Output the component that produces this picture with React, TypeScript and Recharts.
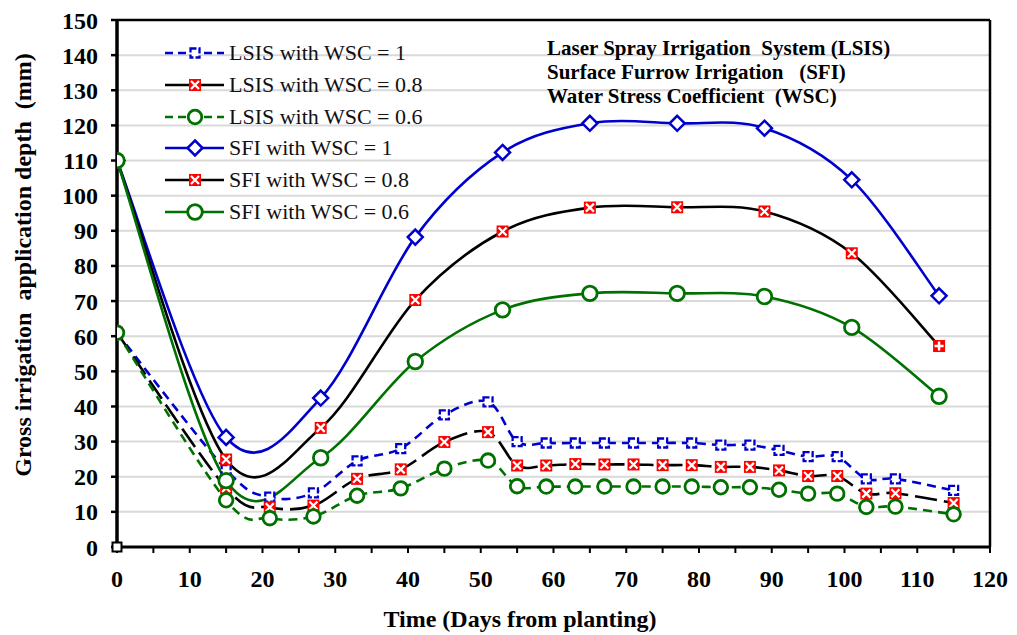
import React from 'react';
import { ComposedChart, Line, XAxis, YAxis, CartesianGrid, ReferenceLine, ReferenceDot, Legend } from 'recharts';

// ---------- data ----------
const lsisDays = [0, 15, 21, 27, 33, 39, 45, 51, 55, 59, 63, 67, 71, 75, 79, 83, 87, 91, 95, 99, 103, 107, 115];
const lsisWsc1 = [61, 22, 14.2, 15.4, 24.5, 28, 37.6, 41.3, 30, 29.6, 29.6, 29.6, 29.6, 29.6, 29.6, 29, 29, 27.5, 25.7, 25.7, 19.4, 19.4, 16.1];
const lsisWsc08 = [61, 16.8, 11.3, 11.8, 19.4, 22.1, 29.9, 32.7, 23.2, 23.2, 23.6, 23.5, 23.5, 23.3, 23.3, 22.8, 22.8, 21.8, 20.2, 20.2, 15.2, 15.3, 12.5];
const lsisWsc06 = [61, 13.3, 8.2, 8.7, 14.6, 16.7, 22.3, 24.6, 17.3, 17.2, 17.2, 17.2, 17.2, 17.2, 17.2, 17, 17, 16.3, 15.2, 15.2, 11.4, 11.5, 9.3];

const sfiDays = [0, 15, 28, 41, 53, 65, 77, 89, 101, 113];
const sfiWsc1 = [110, 31.2, 42.4, 88.2, 112.3, 120.6, 120.6, 119.2, 104.5, 71.5];
const sfiWsc08 = [110, 24.9, 33.9, 70.3, 89.8, 96.6, 96.7, 95.5, 83.6, 57.2];
const sfiWsc06 = [110, 18.9, 25.4, 52.8, 67.5, 72.2, 72.2, 71.3, 62.5, 42.9];

const originDay = 0;
const originValue = 0;

const seriesNames = [
  'LSIS with WSC = 1',
  'LSIS with WSC = 0.8',
  'LSIS with WSC = 0.6',
  'SFI with WSC = 1',
  'SFI with WSC = 0.8',
  'SFI with WSC = 0.6',
];

const yTicks = [0, 10, 20, 30, 40, 50, 60, 70, 80, 90, 100, 110, 120, 130, 140, 150];
const xTicks = [0, 5, 10, 15, 20, 25, 30, 35, 40, 45, 50, 55, 60, 65, 70, 75, 80, 85, 90, 95, 100, 105, 110, 115, 120];

const xTitle = 'Time (Days from planting)';
const yTitle = 'Gross irrigation  application depth  (mm)';
const notes = [
  'Laser Spray Irrigation  System (LSIS)',
  'Surface Furrow Irrigation   (SFI)',
  'Water Stress Coefficient  (WSC)',
];

// ---------- styles ----------
const BLUE = '#0000CC';
const GREEN = '#007000';
const RED = '#FF0000';
const FONT = '"Liberation Serif", "Times New Roman", serif';

const toRows = (days: number[], vals: number[]) => days.map((d, i) => ({ day: d, value: vals[i] }));

// Excel-like smoothing (uniform Catmull-Rom as cubic Bezier)
function excelSmooth(context: any) {
  let pts: number[][] = [];
  return {
    areaStart() {},
    areaEnd() {},
    lineStart() {
      pts = [];
    },
    point(x: number, y: number) {
      pts.push([+x, +y]);
    },
    lineEnd() {
      const n = pts.length;
      if (!n) return;
      context.moveTo(pts[0][0], pts[0][1]);
      if (n === 2) {
        context.lineTo(pts[1][0], pts[1][1]);
        return;
      }
      for (let i = 0; i < n - 1; i++) {
        const p0 = pts[Math.max(i - 1, 0)];
        const p1 = pts[i];
        const p2 = pts[i + 1];
        const p3 = pts[Math.min(i + 2, n - 1)];
        const c1x = p1[0] + (p2[0] - p0[0]) / 6;
        const c1y = p1[1] + (p2[1] - p0[1]) / 6;
        const c2x = p2[0] - (p3[0] - p1[0]) / 6;
        const c2y = p2[1] - (p3[1] - p1[1]) / 6;
        context.bezierCurveTo(c1x, c1y, c2x, c2y, p2[0], p2[1]);
      }
    },
  };
}

type MarkerKind = 'lsisSquare' | 'redX' | 'redPlus' | 'circleSmall' | 'circle' | 'diamond' | 'originSquare';

function Marker({ kind, cx, cy }: { kind: MarkerKind; cx: number; cy: number }) {
  if (cx == null || cy == null || isNaN(cx) || isNaN(cy)) return null;
  switch (kind) {
    case 'lsisSquare':
      return (
        <rect x={cx - 4.5} y={cy - 4.5} width={9} height={9} fill="#fff" stroke={BLUE} strokeWidth={2.3} strokeDasharray="6 2" />
      );
    case 'redX':
      return (
        <g>
          <rect x={cx - 6} y={cy - 6} width={12} height={12} fill={RED} />
          <path d={`M${cx - 4},${cy - 4}L${cx + 4},${cy + 4}M${cx + 4},${cy - 4}L${cx - 4},${cy + 4}`} stroke="#fff" strokeWidth={2.2} />
        </g>
      );
    case 'redPlus':
      return (
        <g>
          <rect x={cx - 6} y={cy - 6} width={12} height={12} fill={RED} />
          <path d={`M${cx - 4.5},${cy}H${cx + 4.5}M${cx},${cy - 4.5}V${cy + 4.5}`} stroke="#fff" strokeWidth={2.4} />
        </g>
      );
    case 'circleSmall':
      return <circle cx={cx} cy={cy} r={6.8} fill="#fff" stroke={GREEN} strokeWidth={2.8} />;
    case 'circle':
      return <circle cx={cx} cy={cy} r={7.3} fill="#fff" stroke={GREEN} strokeWidth={2.8} />;
    case 'diamond':
      return (
        <polygon
          points={`${cx},${cy - 7.5} ${cx + 7.5},${cy} ${cx},${cy + 7.5} ${cx - 7.5},${cy}`}
          fill="#fff"
          stroke={BLUE}
          strokeWidth={2.5}
        />
      );
    case 'originSquare':
      return <rect x={cx - 4.5} y={cy - 4.5} width={9} height={9} fill="#fff" stroke="#000" strokeWidth={2} />;
  }
  return null;
}

const seriesStyles = [
  { stroke: BLUE, dash: '9 6', legendDash: '8 5', marker: 'lsisSquare' as MarkerKind },
  { stroke: '#000', dash: '22 7', legendDash: undefined, marker: 'redX' as MarkerKind },
  { stroke: GREEN, dash: '9 6', legendDash: '8 5', marker: 'circleSmall' as MarkerKind },
  { stroke: BLUE, dash: undefined, legendDash: undefined, marker: 'diamond' as MarkerKind },
  { stroke: '#000', dash: undefined, legendDash: undefined, marker: 'redX' as MarkerKind },
  { stroke: GREEN, dash: undefined, legendDash: undefined, marker: 'circle' as MarkerKind },
];

const seriesData = [
  toRows(lsisDays, lsisWsc1),
  toRows(lsisDays, lsisWsc08),
  toRows(lsisDays, lsisWsc06),
  toRows(sfiDays, sfiWsc1),
  toRows(sfiDays, sfiWsc08),
  toRows(sfiDays, sfiWsc06),
];

const LegendContent = () => (
  <div style={{ fontFamily: FONT, fontSize: 22, color: '#111' }}>
    {seriesNames.map((name, i) => {
      const s = seriesStyles[i];
      return (
        <div key={name} style={{ display: 'flex', alignItems: 'center', height: 31.7, whiteSpace: 'pre' }}>
          <svg width={64} height={32} style={{ flex: 'none' }}>
            <line x1={0} x2={59} y1={16} y2={16} stroke={s.stroke} strokeWidth={2.6} strokeDasharray={s.legendDash} />
            <Marker kind={s.marker} cx={30} cy={16} />
          </svg>
          <span>{name}</span>
        </div>
      );
    })}
  </div>
);

const YTitle = () => (
  <text
    transform="translate(31,265) rotate(-90)"
    textAnchor="middle"
    fontFamily={FONT}
    fontWeight="bold"
    fontSize={24}
    fill="#000"
    style={{ whiteSpace: 'pre' }}
  >
    {yTitle}
  </text>
);

const XTitleAndNotes = () => (
  <g>
    <text x={520} y={627} textAnchor="middle" fontFamily={FONT} fontWeight="bold" fontSize={24} fill="#000" style={{ whiteSpace: 'pre' }}>
      {xTitle}
    </text>
    {notes.map((t, i) => (
      <text key={t} x={547} y={55 + i * 24.2} fontFamily={FONT} fontWeight="bold" fontSize={21} fill="#000" style={{ whiteSpace: 'pre' }}>
        {t}
      </text>
    ))}
  </g>
);

const tickStyle = { fill: '#000', fontSize: 24, fontWeight: 'bold' as const, fontFamily: FONT };

export default function App() {
  return (
    <div style={{ position: 'absolute', left: 0, top: 0, background: '#fff' }}>
      <ComposedChart width={1017} height={635} margin={{ top: 20, right: 27, left: 0, bottom: 0 }}>
        <CartesianGrid horizontal vertical={false} stroke="#D9D9D9" strokeWidth={2} />
        <XAxis
          type="number"
          dataKey="day"
          domain={[0, 120]}
          ticks={xTicks}
          interval={0}
          height={88}
          tickFormatter={(v: number) => (v % 10 === 0 ? String(v) : '')}
          tick={tickStyle}
          tickSize={6}
          tickMargin={17}
          axisLine={{ stroke: '#000', strokeWidth: 3 }}
          tickLine={{ stroke: '#000', strokeWidth: 2 }}
          allowDataOverflow
          label={<XTitleAndNotes />}
        />
        <YAxis
          type="number"
          domain={[0, 150]}
          ticks={yTicks}
          interval={0}
          width={117}
          tick={tickStyle}
          tickSize={6}
          tickMargin={13}
          axisLine={{ stroke: '#000', strokeWidth: 3.5 }}
          tickLine={{ stroke: '#000', strokeWidth: 2.5 }}
          allowDataOverflow
          label={<YTitle />}
        />
        <ReferenceLine y={150} stroke="#000" strokeWidth={2.5} />
        <ReferenceLine x={120} stroke="#000" strokeWidth={2.5} />
        <Legend
          layout="vertical"
          align="center"
          verticalAlign="middle"
          content={<LegendContent />}
          wrapperStyle={{ left: 165, top: 37.5, width: 290, height: 192 }}
        />
        {seriesNames.map((name, i) => {
          const s = seriesStyles[i];
          const lastIdx = seriesData[i].length - 1;
          return (
            <Line
              key={name}
              name={name}
              data={seriesData[i]}
              dataKey="value"
              type={excelSmooth as any}
              stroke={s.stroke}
              strokeWidth={2.6}
              strokeDasharray={s.dash}
              isAnimationActive={false}
              dot={(p: any) => (
                <Marker
                  key={`m-${i}-${p.index}`}
                  kind={i === 4 && p.index === lastIdx ? 'redPlus' : s.marker}
                  cx={p.cx}
                  cy={p.cy}
                />
              )}
              activeDot={false}
            />
          );
        })}
        <ReferenceDot
          x={originDay}
          y={originValue}
          r={5}
          ifOverflow="visible"
          shape={(p: any) => <Marker kind="originSquare" cx={p.cx} cy={p.cy} />}
        />
      </ComposedChart>
    </div>
  );
}
